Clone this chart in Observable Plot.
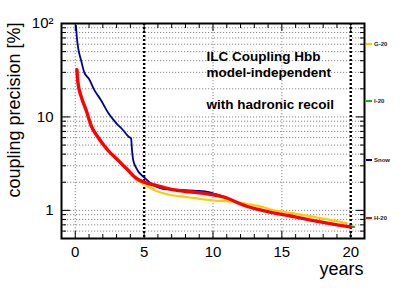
<!DOCTYPE html>
<html><head><meta charset="utf-8">
<script src="https://cdn.jsdelivr.net/npm/d3@7"></script>
<script src="https://cdn.jsdelivr.net/npm/@observablehq/plot@0.6"></script>
<style>
body{margin:0;background:#fff;font-family:"Liberation Sans",Arial,sans-serif}
#wrap{position:relative;width:404px;height:291px}
.item{position:absolute;left:366px;display:flex;align-items:center;font-size:6px;font-weight:bold;color:#222;white-space:nowrap;line-height:1}
.sw{width:6px;height:2px;margin-right:2px}
</style></head><body><div id="wrap"></div>
<script>
// ---- data ----
const snowYears = [0.05, 0.12, 0.2, 0.43, 0.65, 1.0, 1.38, 1.88, 2.4, 2.97, 3.48, 3.9, 4.05, 4.12, 4.2, 4.42, 5.0, 5.63, 6.35, 7.3, 8.77, 9.7, 10.2, 11.1, 12.0, 12.5, 13.2, 14.4, 15.65, 16.5, 18.3, 20.0];
const snowPrec  = [95, 70, 56, 40, 30, 25.5, 19.5, 15, 11, 8.6, 7.2, 6.1, 5.9, 4.4, 3.5, 2.85, 2.25, 1.88, 1.70, 1.66, 1.62, 1.57, 1.49, 1.34, 1.17, 1.1, 1.03, 0.94, 0.87, 0.82, 0.73, 0.665];

const h20Years = [0.12, 0.15, 0.22, 0.43, 0.8, 1.16, 1.64, 2.37, 3.1, 3.82, 4.42, 5.0, 5.86, 6.83, 8.05, 9.25, 9.9, 10.6, 11.1, 12.0, 12.5, 13.2, 14.4, 15.65, 16.5, 18.3, 20.0];
const h20Prec  = [32, 27, 22, 16.5, 11.7, 8.0, 6.1, 4.4, 3.45, 2.7, 2.21, 2.0, 1.85, 1.7, 1.59, 1.53, 1.48, 1.41, 1.34, 1.17, 1.1, 1.03, 0.94, 0.87, 0.82, 0.73, 0.665];

const g20Years = [0.12, 0.15, 0.22, 0.43, 0.8, 1.16, 1.64, 2.37, 3.1, 3.82, 4.42, 5.0, 5.86, 6.83, 8.05, 9.25, 10.2, 11.5, 12.0, 12.75, 13.5, 14.0, 15.65, 18.3, 19.7];
const g20Prec  = [32, 27, 22, 16.5, 11.7, 8.0, 6.1, 4.4, 3.45, 2.65, 2.15, 1.9, 1.62, 1.47, 1.39, 1.32, 1.27, 1.24, 1.21, 1.15, 1.1, 1.04, 0.94, 0.8, 0.73];

const i20Years = [20.0, 20.25];
const i20Prec  = [0.665, 0.665];

const legendLabels = ["G-20", "I-20", "Snow", "H-20"];
const legendColors = ["#ffcc00", "#22aa22", "#000099", "#ff0000"];

const xMajor = [0, 5, 10, 15, 20];
const xMinor = [1,2,3,4,6,7,8,9,11,12,13,14,16,17,18,19];
const xGrid = [0, 10, 15];
const xThick = [5, 20];
const yMajor = [1, 10, 100];
const yMinor = [0.6,0.7,0.8,0.9,2,3,4,5,6,7,8,9,20,30,40,50,60,70,80,90];
const yLabels = {1: "1", 10: "10", 100: "10²"};
const yTitle = "coupling precision [%]";
const xTitle = "years";
const notes = ["ILC Coupling Hbb", "model-independent", "with hadronic recoil"];

// ---- build ----
const toRows = (xs, ys) => xs.map((x, i) => ({year: x, prec: ys[i]}));
const snow = toRows(snowYears, snowPrec);
const h20 = toRows(h20Years, h20Prec);
const g20 = toRows(g20Years, g20Prec);
const i20 = toRows(i20Years, i20Prec);

const noteDy = [37, 53.5, 85];
const font = "Liberation Sans, Arial, Helvetica, sans-serif";

const chart = Plot.plot({
  width: 404, height: 291,
  marginLeft: 61, marginRight: 40, marginTop: 23, marginBottom: 53,
  x: {domain: [-1, 21]},
  y: {type: "log", domain: [0.5, 100]},
  style: {fontFamily: font, color: "black", background: "white", overflow: "visible"},
  marks: [
    Plot.gridY([...yMinor, ...yMajor], {stroke: "#8a8a8a", strokeOpacity: 1, strokeDasharray: "1.2,1.8"}),
    Plot.gridX(xGrid, {stroke: "#8a8a8a", strokeOpacity: 1, strokeDasharray: "1.2,1.8"}),
    Plot.ruleX(xThick, {stroke: "black", strokeWidth: 2.4, strokeDasharray: "2,2"}),
    Plot.line(g20, {x: "year", y: "prec", stroke: legendColors[0], strokeWidth: 2.2, curve: "monotone-x"}),
    Plot.line(i20, {x: "year", y: "prec", stroke: legendColors[1], strokeWidth: 2.2}),
    Plot.line(snow, {x: "year", y: "prec", stroke: legendColors[2], strokeWidth: 1.8, curve: "monotone-x"}),
    Plot.line(h20, {x: "year", y: "prec", stroke: legendColors[3], strokeWidth: 3.4, curve: "monotone-x"}),
    // ticks (inward)
    Plot.axisY(yMajor, {anchor: "left", tickSize: -9, tickFormat: () => "", label: null}),
    Plot.axisY(yMinor, {anchor: "left", tickSize: -5, tickFormat: () => "", label: null}),
    Plot.axisY(yMajor, {anchor: "right", tickSize: -9, tickFormat: () => "", label: null}),
    Plot.axisY(yMinor, {anchor: "right", tickSize: -5, tickFormat: () => "", label: null}),
    Plot.axisX(xMajor, {anchor: "bottom", tickSize: -7, tickFormat: () => "", label: null}),
    Plot.axisX(xMinor, {anchor: "bottom", tickSize: -4, tickFormat: () => "", label: null}),
    Plot.axisX(xMajor, {anchor: "top", tickSize: -7, tickFormat: () => "", label: null}),
    Plot.axisX(xMinor, {anchor: "top", tickSize: -4, tickFormat: () => "", label: null}),
    // labels
    Plot.axisY(yMajor, {anchor: "left", tickSize: 0, tickPadding: 8, fontSize: 15, tickFormat: d => yLabels[d], label: null}),
    Plot.axisX(xMajor, {anchor: "bottom", tickSize: 0, tickPadding: 8, fontSize: 15, label: null}),
    Plot.text([yTitle], {frameAnchor: "top-left", rotate: -90, textAnchor: "end", lineAnchor: "bottom", dx: -42, dy: -1, fontSize: 18}),
    Plot.text([xTitle], {frameAnchor: "bottom-right", textAnchor: "end", lineAnchor: "bottom", dx: -1, dy: 36, fontSize: 18}),
    ...notes.map((t, i) => Plot.text([t], {frameAnchor: "top-left", textAnchor: "start", lineAnchor: "bottom", dx: 145, dy: noteDy[i], fontSize: 13.5, fontWeight: "bold"})),
    Plot.frame({stroke: "black", strokeWidth: 2})
  ]
});

const wrap = document.getElementById("wrap");
wrap.appendChild(chart);
const legendTop = [44, 101, 159.5, 218];
legendLabels.forEach((lab, i) => {
  const it = document.createElement("div");
  it.className = "item";
  it.style.top = (legendTop[i] - 3) + "px";
  const sw = document.createElement("span");
  sw.className = "sw";
  sw.style.background = legendColors[i];
  it.appendChild(sw);
  it.appendChild(document.createTextNode(lab));
  wrap.appendChild(it);
});
</script></body></html>
